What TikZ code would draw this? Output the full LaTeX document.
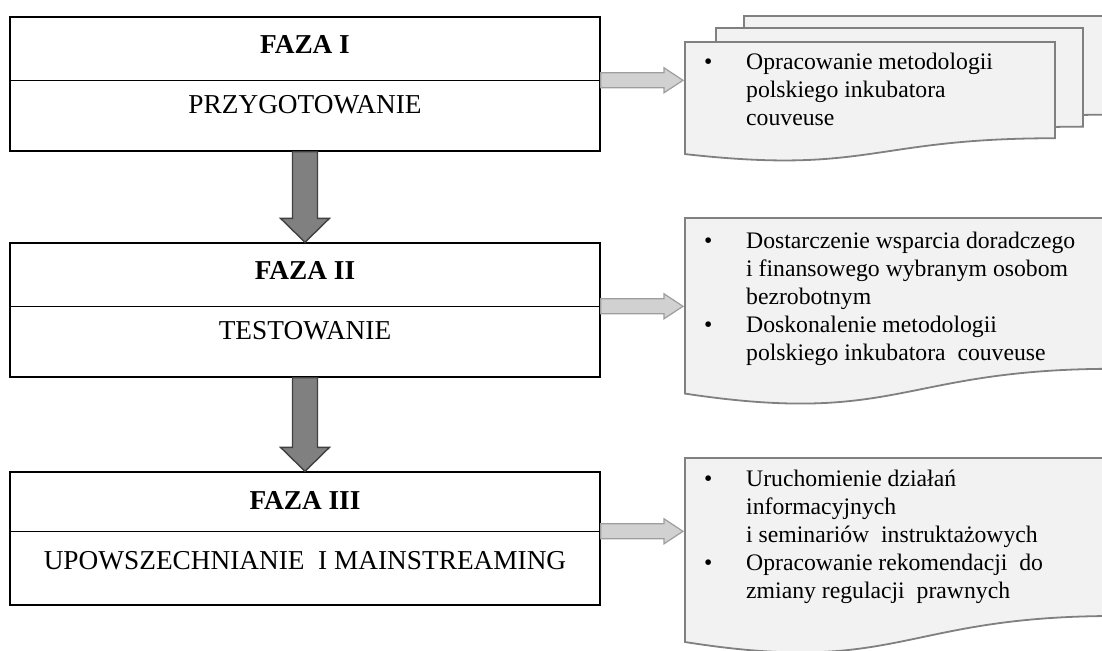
\documentclass[tikz,border=0pt]{standalone}
\usepackage{fontspec}
\setmainfont{Liberation Serif}
\usetikzlibrary{calc}
\definecolor{docfill}{gray}{0.95}
\definecolor{docline}{gray}{0.5}
\definecolor{bigfill}{gray}{0.5}
\definecolor{bigline}{gray}{0.25}
\definecolor{sidefill}{gray}{0.82}
\definecolor{sideline}{gray}{0.62}
\def\docshape[#1](#2,#3)(#4:#5){\draw[#1] (#2,#3) -- ({#2+#4},#3) -- ({#2+#4},{#3+0.802*#5}) .. controls ({#2+0.5*#4},{#3+0.802*#5}) and ({#2+0.5*#4},{#3+1.107*#5}) .. (#2,{#3+0.934*#5}) -- cycle;}
\def\fazaarrow(#1)(#2){\draw[bigarrow] ($(#1)+(-12.5,0)$) -- ($(#2)+(-12.5,-24)$) -- ($(#2)+(-24.5,-24)$) -- (#2) -- ($(#2)+(24.5,-24)$) -- ($(#2)+(12.5,-24)$) -- ($(#1)+(12.5,0)$) -- cycle;}
\def\sidearrow(#1)(#2){\draw[sidearrow] ($(#1)+(0,-7.5)$) -- ($(#2)+(-21,-7.5)$) -- ($(#2)+(-21,-12.5)$) -- ($(#2)+(-2,0)$) -- ($(#2)+(-21,12.5)$) -- ($(#2)+(-21,7.5)$) -- ($(#1)+(0,7.5)$) -- cycle;}
\begin{document}
\begin{tikzpicture}[x=1pt, y=-1pt,
    fazabox/.style={draw, line width=1.4pt, minimum width=590pt, inner sep=0pt},
    fazatitle/.style={anchor=base, inner sep=0pt, font=\fontsize{27.3}{32}\selectfont\bfseries},
    fazaname/.style={anchor=base, inner sep=0pt, font=\fontsize{27.3}{32}\selectfont},
    doc/.style={draw=docline, fill=docfill, line width=1.8pt},
    listtext/.style={anchor=base west, inner sep=0pt, font=\fontsize{23.7}{28}\selectfont},
    bigarrow/.style={draw=bigline, fill=bigfill, line width=1.4pt},
    sidearrow/.style={draw=sideline, fill=sidefill, line width=1.2pt}]
		%%%%% START %%%%%
		\useasboundingbox (0,0) rectangle (1102,650);
		\clip (0,0) rectangle (1102,650);
		
		\node[fazabox, minimum height=134pt] (faza1) at (305,84) {};
		\node[fazabox, minimum height=134pt] (faza2) at (305,310) {};
		\node[fazabox, minimum height=133pt] (faza3) at (305,538.5) {};
		
		\coordinate (d1) at ($(faza1.north east)+(0,64)$);
		\coordinate (d2) at ($(faza2.north east)+(0,64)$);
		\coordinate (d3) at ($(faza3.north east)+(0,60)$);
		\draw[line width=1.4pt] (faza1.west |- d1) -- (d1);
		\draw[line width=1.4pt] (faza2.west |- d2) -- (d2);
		\draw[line width=1.4pt] (faza3.west |- d3) -- (d3);
		
		\node[fazatitle] (tytul1) at ($(faza1.north)+(0,37)$) {FAZA I};
		\node[fazaname] (nazwa1) at ($(faza1.north)+(0,97)$) {PRZYGOTOWANIE};
		\node[fazatitle] (tytul2) at ($(faza2.north)+(0,37)$) {FAZA II};
		\node[fazaname] (nazwa2) at ($(faza2.north)+(0,97)$) {TESTOWANIE};
		\node[fazatitle] (tytul3) at ($(faza3.north)+(0,38)$) {FAZA III};
		\node[fazaname] (nazwa3) at ($(faza3.north)+(0,98)$) {UPOWSZECHNIANIE\ \ I MAINSTREAMING};
		
		\fazaarrow(faza1.south)(faza2.north)
		\fazaarrow(faza2.south)(faza3.north)
		
		\docshape[doc](744,16)(367:123)
		\docshape[doc](716,28)(367:123)
		\docshape[doc](685,42)(370:120)
		\docshape[doc](685,218)(430:188)
		\docshape[doc](685,458)(430:197)
		\coordinate (doc1) at (685,42);
		\coordinate (doc2) at (685,218);
		\coordinate (doc3) at (685,458);
		
		\coordinate (e1) at (d1 -| doc1);
		\coordinate (e2) at (d2 -| doc2);
		\coordinate (e3) at (d3 -| doc3);
		\sidearrow(d1)(e1)
		\sidearrow(d2)(e2)
		\sidearrow(d3)(e3)
		
		\node[listtext] (lista1) at (704,70) {\begin{tabular}[t]{@{}p{42pt}@{}l@{}}\textbullet & Opracowanie metodologii\\ & polskiego inkubatora\\ & couveuse\end{tabular}};
		\node[listtext] (lista2) at (704,248) {\begin{tabular}[t]{@{}p{42pt}@{}l@{}}\textbullet & Dostarczenie wsparcia doradczego\\ & i finansowego wybranym osobom\\ & bezrobotnym\\ \textbullet & Doskonalenie metodologii\\ & polskiego inkubatora\ \ couveuse\end{tabular}};
		\node[listtext] (lista3) at (704,486) {\begin{tabular}[t]{@{}p{42pt}@{}l@{}}\textbullet & Uruchomienie działań\\ & informacyjnych\\ & i seminariów\ \ instruktażowych\\ \textbullet & Opracowanie rekomendacji\ \ do\\ & zmiany regulacji\ \ prawnych\end{tabular}};
		
		%%%%% END %%%%%
\end{tikzpicture}
\end{document}
